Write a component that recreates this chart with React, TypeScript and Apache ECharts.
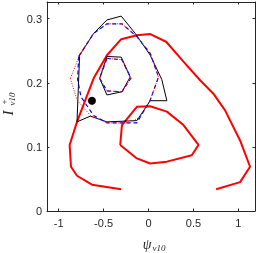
import React, { useEffect, useRef } from "react";
import * as echarts from "echarts";

const xTicks = [-1, -0.5, 0, 0.5, 1];
const yTicks = [0, 0.1, 0.2, 0.3];

const blackOuter: number[][] = [
  [-0.796, 0.139], [-0.648, 0.148], [-0.463, 0.139], [-0.13, 0.141], [0.019, 0.172],
  [0.204, 0.172], [0.148, 0.205], [0.019, 0.243], [-0.148, 0.277], [-0.304, 0.304],
  [-0.463, 0.298], [-0.611, 0.277], [-0.767, 0.243], [-0.796, 0.139],
];
const blackInner: number[][] = [
  [-0.463, 0.241], [-0.304, 0.24], [-0.204, 0.209], [-0.296, 0.186], [-0.463, 0.181],
  [-0.544, 0.207], [-0.463, 0.241],
];
const blueOuter: number[][] = [
  [-0.778, 0.241], [-0.789, 0.205], [-0.752, 0.178], [-0.611, 0.149], [-0.463, 0.1375],
  [-0.13, 0.1375], [0.019, 0.173], [0.111, 0.209], [0.019, 0.246], [-0.13, 0.272],
  [-0.296, 0.292], [-0.463, 0.292], [-0.611, 0.277], [-0.778, 0.241],
];
const blueInner: number[][] = [
  [-0.463, 0.238], [-0.296, 0.236], [-0.196, 0.207], [-0.296, 0.186], [-0.463, 0.1875],
  [-0.544, 0.207], [-0.463, 0.238],
];
const redDotOuter: number[][] = [
  [-0.87, 0.207], [-0.767, 0.243], [-0.611, 0.277], [-0.463, 0.292], [-0.296, 0.292],
  [-0.13, 0.272], [0.019, 0.246], [0.111, 0.209], [0.019, 0.173], [-0.093, 0.147],
  [-0.204, 0.1375], [-0.463, 0.1375], [-0.648, 0.149], [-0.796, 0.173], [-0.87, 0.207],
];
const redDotInner: number[][] = [
  [-0.463, 0.238], [-0.296, 0.236], [-0.196, 0.207], [-0.296, 0.186], [-0.463, 0.1875],
  [-0.544, 0.207], [-0.463, 0.238],
];
const redThick: number[][] = [
  [-0.304, 0.034], [-0.63, 0.041], [-0.796, 0.055], [-0.863, 0.069], [-0.878, 0.103],
  [-0.796, 0.139], [-0.611, 0.207], [-0.463, 0.243], [-0.304, 0.268], [-0.13, 0.274],
  [0.019, 0.276], [0.196, 0.264], [0.389, 0.233], [0.574, 0.204], [0.722, 0.183],
  [0.852, 0.157], [1.019, 0.11], [1.13, 0.069], [1.019, 0.045], [0.752, 0.034],
];
const redLoop: number[][] = [
  [-0.315, 0.103], [-0.296, 0.134], [-0.13, 0.1625], [0.019, 0.1635], [0.204, 0.155],
  [0.389, 0.134], [0.556, 0.103], [0.481, 0.087], [0.204, 0.077], [0.019, 0.074],
  [-0.13, 0.082], [-0.315, 0.103],
];
const dot: number[][] = [[-0.63, 0.172]];

const axisColor = "#262626";
const tickFont = { color: axisColor, fontSize: 11, fontFamily: "Liberation Sans, Arial, sans-serif" };

export default function App() {
  const ref = useRef<HTMLDivElement>(null);
  useEffect(() => {
    if (!ref.current) return;
    const chart = echarts.init(ref.current, undefined, { renderer: "svg" });
    const line = (data: number[][], color: string, width: number, type: any) => ({
      type: "line",
      data,
      showSymbol: false,
      symbol: "none",
      lineStyle: { color, width, type },
      silent: true,
    });
    const xBase = {
      type: "value",
      min: -1.13,
      max: 1.185,
      splitLine: { show: false },
      axisLine: { show: true, onZero: false, lineStyle: { color: axisColor, width: 1 } },
      axisTick: { show: true, inside: true, length: 2.5, customValues: xTicks, lineStyle: { color: axisColor } },
    };
    const yBase = {
      type: "value",
      min: 0,
      max: 0.326,
      splitLine: { show: false },
      axisLine: { show: true, onZero: false, lineStyle: { color: axisColor, width: 1 } },
      axisTick: { show: true, inside: true, length: 2.5, customValues: yTicks, lineStyle: { color: axisColor } },
    };
    chart.setOption({
      animation: false,
      grid: { left: 47, right: 4, top: 2, bottom: 42 },
      xAxis: [
        { ...xBase, position: "bottom", axisLabel: { ...tickFont, margin: 6, customValues: xTicks } },
        { ...xBase, position: "top", axisLabel: { show: false } },
      ],
      yAxis: [
        { ...yBase, position: "left", axisLabel: { ...tickFont, margin: 5, customValues: yTicks } },
        { ...yBase, position: "right", axisLabel: { show: false } },
      ],
      series: [
        line(redThick, "#ff0000", 2, "solid"),
        line(redLoop, "#ff0000", 2, "solid"),
        line(blackOuter, "#000000", 1, "solid"),
        line(blackInner, "#000000", 1, "solid"),
        line(blueOuter, "#0000ff", 1.2, [4, 3]),
        line(blueInner, "#0000ff", 1.2, [4, 3]),
        line(redDotOuter, "#ff0000", 1, [1, 1.5]),
        line(redDotInner, "#ff0000", 1, [1, 1.5]),
        {
          type: "scatter",
          data: dot,
          symbolSize: 8,
          itemStyle: { color: "#000000", opacity: 1 },
          silent: true,
        },
      ],
      graphic: [
        {
          type: "group",
          x: 8,
          y: 105,
          rotation: Math.PI / 2,
          children: [
            { type: "text", x: -8, y: 0, style: { text: "I", font: "italic 15px 'Liberation Serif', serif", fill: axisColor, align: "center", verticalAlign: "middle" } },
            { type: "text", x: 3, y: -4, style: { text: "+", font: "9px 'Liberation Serif', serif", fill: axisColor, align: "center", verticalAlign: "middle" } },
            { type: "text", x: 6, y: 4, style: { text: "v10", font: "italic 9px 'Liberation Serif', serif", fill: axisColor, align: "center", verticalAlign: "middle" } },
          ],
        },
        { type: "text", x: 147, y: 244, style: { text: "ψ", font: "italic 14px 'Liberation Serif', serif", fill: axisColor, align: "center", verticalAlign: "middle" } },
        { type: "text", x: 159, y: 248, style: { text: "v10", font: "italic 9px 'Liberation Serif', serif", fill: axisColor, align: "center", verticalAlign: "middle" } },
      ],
    });
    return () => chart.dispose();
  }, []);
  return <div ref={ref} style={{ width: 259, height: 253, position: "fixed", left: 0, top: 0 }} />;
}
